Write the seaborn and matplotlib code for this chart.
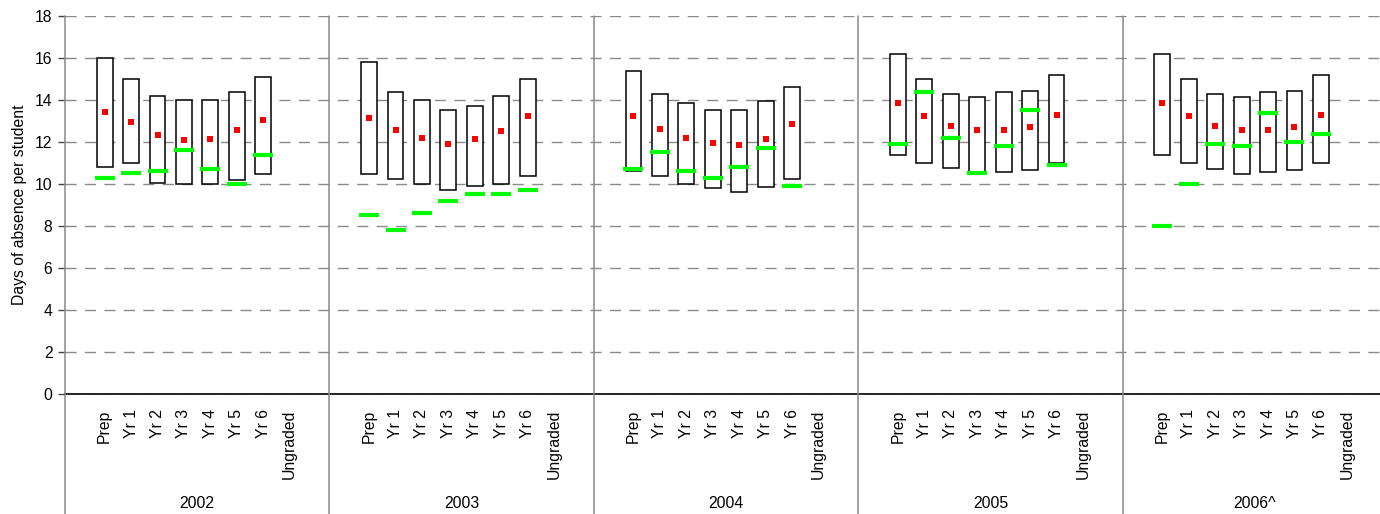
import numpy as np
import pandas as pd
import matplotlib
matplotlib.use("Agg")
import matplotlib.pyplot as plt
import matplotlib.transforms as mtransforms
import seaborn as sns

# Chart data
years = ["2002", "2003", "2004", "2005", "2006^"]
grades = ["Prep", "Yr 1", "Yr 2", "Yr 3", "Yr 4", "Yr 5", "Yr 6", "Ungraded"]

# top / bottom of the range boxes, state mean (red), school value (green)
high_2002 = [16.0, 15.0, 14.2, 14.0, 14.0, 14.4, 15.1]
low_2002 = [10.8, 11.0, 10.05, 10.0, 10.0, 10.2, 10.5]
mean_2002 = [13.45, 12.95, 12.35, 12.1, 12.15, 12.55, 13.05]
school_2002 = [10.3, 10.5, 10.6, 11.6, 10.7, 10.0, 11.4]

high_2003 = [15.8, 14.4, 14.0, 13.5, 13.7, 14.2, 15.0]
low_2003 = [10.5, 10.25, 10.0, 9.7, 9.9, 10.0, 10.4]
mean_2003 = [13.15, 12.55, 12.2, 11.9, 12.15, 12.5, 13.25]
school_2003 = [8.5, 7.8, 8.6, 9.2, 9.5, 9.5, 9.7]

high_2004 = [15.4, 14.3, 13.85, 13.5, 13.5, 13.95, 14.6]
low_2004 = [10.6, 10.4, 10.0, 9.8, 9.6, 9.85, 10.25]
mean_2004 = [13.25, 12.6, 12.2, 11.95, 11.85, 12.15, 12.85]
school_2004 = [10.7, 11.5, 10.6, 10.3, 10.8, 11.7, 9.9]

high_2005 = [16.2, 15.0, 14.3, 14.15, 14.4, 14.45, 15.2]
low_2005 = [11.4, 11.0, 10.75, 10.5, 10.55, 10.65, 11.0]
mean_2005 = [13.85, 13.25, 12.75, 12.55, 12.55, 12.7, 13.3]
school_2005 = [11.9, 14.4, 12.2, 10.5, 11.8, 13.5, 10.9]

high_2006 = [16.2, 15.0, 14.3, 14.15, 14.4, 14.45, 15.2]
low_2006 = [11.4, 11.0, 10.7, 10.5, 10.55, 10.65, 11.0]
mean_2006 = [13.85, 13.25, 12.75, 12.55, 12.55, 12.7, 13.3]
school_2006 = [8.0, 10.0, 11.9, 11.8, 13.4, 12.0, 12.4]

highs = [high_2002, high_2003, high_2004, high_2005, high_2006]
lows = [low_2002, low_2003, low_2004, low_2005, low_2006]
means = [mean_2002, mean_2003, mean_2004, mean_2005, mean_2006]
schools = [school_2002, school_2003, school_2004, school_2005, school_2006]

SLOTS = 10  # category slots per year group (one blank each side)

rows = []
for yi, yr in enumerate(years):
    for gi in range(len(highs[yi])):
        rows.append({
            "year": yr,
            "grade": grades[gi],
            "pos": yi * SLOTS + 1.5 + gi,
            "high": highs[yi][gi],
            "low": lows[yi][gi],
            "mean": means[yi][gi],
            "school": schools[yi][gi],
        })
df = pd.DataFrame(rows)

sns.set_style("white")
plt.rcParams["font.family"] = ["Liberation Sans", "DejaVu Sans"]
plt.rcParams["font.size"] = 11.3
plt.rcParams["text.color"] = "black"
plt.rcParams["axes.labelcolor"] = "black"
plt.rcParams["xtick.color"] = "black"
plt.rcParams["ytick.color"] = "black"

fig = plt.figure(figsize=(13.8, 5.14), dpi=100)
ax = fig.add_axes([65 / 1380, 120 / 514, 1322 / 1380, 378 / 514])

# range boxes
ax.bar(df["pos"], df["high"] - df["low"], bottom=df["low"], width=0.6,
       color="white", edgecolor="black", linewidth=1.1, zorder=3)

# school value (green dash) and mean (red square)
sns.scatterplot(data=df, x="pos", y="school", marker="_", s=210, color="#00ff00",
                linewidth=3.0, ax=ax, zorder=4, legend=False)
sns.scatterplot(data=df, x="pos", y="mean", marker="s", s=20, color="#ff0000",
                linewidth=0, ax=ax, zorder=5, legend=False)

ax.set_xlim(0, SLOTS * len(years))
ax.set_ylim(0, 18)
ax.set_yticks(np.arange(0, 19, 2))
ax.yaxis.grid(True, color="#8a8a8a", linestyle=(0, (8, 6)), linewidth=1.0)
ax.set_axisbelow(True)

tick_pos = [yi * SLOTS + 1.5 + gi for yi in range(len(years)) for gi in range(len(grades))]
tick_lab = [g for _ in years for g in grades]
ax.set_xticks(tick_pos)
ax.set_xticklabels(tick_lab, rotation=90, va="top", ha="center")
ax.tick_params(axis="x", length=0, pad=11)
ax.tick_params(axis="y", left=True, length=5, width=1, color="#444444", pad=4, direction="out")

ax.set_xlabel("")
ax.set_ylabel("Days of absence per student")
ax.yaxis.set_label_coords(-0.029, 0.5)

for side in ["top", "right", "left"]:
    ax.spines[side].set_visible(False)
ax.spines["bottom"].set_color("black")
ax.spines["bottom"].set_linewidth(1.2)

# group separators running down through the label area
trans = mtransforms.blended_transform_factory(ax.transData, ax.transAxes)
for k in range(len(years)):
    ax.plot([k * SLOTS, k * SLOTS], [-0.32, 1.0], transform=trans, color="#888888",
            linewidth=1.1, clip_on=False, zorder=6)

# year group labels
trans2 = mtransforms.blended_transform_factory(ax.transData, fig.transFigure)
for yi, yr in enumerate(years):
    ax.text(yi * SLOTS + SLOTS / 2, 10 / 514, yr, transform=trans2,
            ha="center", va="center")

fig.savefig("out.png", dpi=100)
